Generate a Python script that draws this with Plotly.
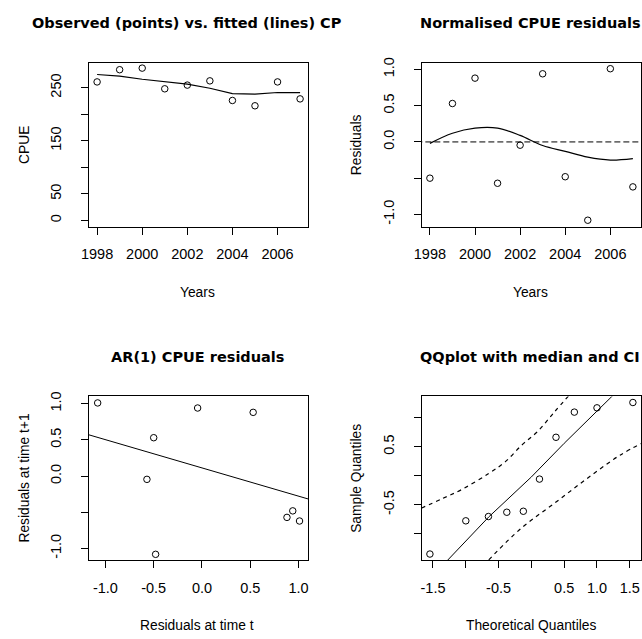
import plotly.graph_objects as go

# ---------------- data ----------------
years = [1998, 1999, 2000, 2001, 2002, 2003, 2004, 2005, 2006, 2007]
cpue_obs = [261, 284, 287, 248, 255, 263, 226, 216, 261, 229]
cpue_fit = [275, 272, 266, 262, 257, 249, 239, 238, 241, 241]

resid = [-0.50, 0.53, 0.88, -0.57, -0.045, 0.94, -0.48, -1.08, 1.01, -0.62]
resid_smooth = [-0.02, 0.12, 0.19, 0.19, 0.09, -0.05, -0.13, -0.21, -0.25, -0.23]

ar_intercept = 0.113
ar_slope = -0.39

theo_q = [-1.547, -1.0, -0.655, -0.375, -0.123, 0.123, 0.375, 0.655, 1.0, 1.547]
sample_q = [-1.35, -0.777, -0.703, -0.629, -0.612, -0.057, 0.664, 1.098, 1.172, 1.264]
qq_med_x = [-1.7, -0.65, 0.0, 0.5, 1.3]
qq_med_y = [-1.96, -0.71, -0.02, 0.56, 1.45]
qq_up_x = [-1.68, -1.35, -1.05, -0.65, -0.40, -0.15, 0.10, 0.35, 0.60]
qq_up_y = [-0.56, -0.39, -0.23, 0.04, 0.24, 0.526, 0.77, 1.10, 1.42]
qq_lo_x = [-0.65, -0.15, 0.35, 0.85, 1.35, 1.70]
qq_lo_y = [-1.45, -0.90, -0.475, -0.046, 0.355, 0.57]

titles = ["Observed (points) vs. fitted (lines) CP", "Normalised CPUE residuals",
          "AR(1) CPUE residuals", "QQplot with median and CI"]

# ---------------- layout helpers ----------------
W, H = 642, 639
BLACK = "black"
TICKFONT = dict(family="Liberation Sans, Arial, sans-serif", size=14.5, color=BLACK)
LABFONT = dict(family="Liberation Sans, Arial, sans-serif", size=13.8, color=BLACK)
TITFONT = dict(family="DejaVu Sans, sans-serif", size=14.5, color=BLACK)


def px(x):
    return x / W


def py(y):
    return 1 - y / H


def axis(dom, rng, tickvals, ticktext=None, is_y=False):
    d = dict(domain=dom, range=rng, tickmode="array", tickvals=tickvals,
             ticktext=ticktext if ticktext is not None else [str(v) for v in tickvals],
             showgrid=False, zeroline=False, showline=True, mirror=True,
             linecolor=BLACK, linewidth=1, ticks="outside", ticklen=7,
             tickwidth=1, tickcolor=BLACK, tickfont=TICKFONT, fixedrange=True)
    if is_y:
        d["tickangle"] = -90
        d["ticklabelstandoff"] = 14
    else:
        d["ticklabelstandoff"] = 7
    return d


colx = [(82, 304), (419, 641)]
rowy = [(58, 223.5), (394.5, 559.5)]

fig = go.Figure()
marker = dict(symbol="circle-open", size=6.5, color=BLACK, line=dict(width=1, color=BLACK))

# panel 1
fig.add_trace(go.Scatter(x=years, y=cpue_obs, mode="markers", marker=marker,
                         xaxis="x", yaxis="y"))
fig.add_trace(go.Scatter(x=years, y=cpue_fit, mode="lines", line=dict(color=BLACK, width=1.2),
                         xaxis="x", yaxis="y"))
# panel 2
fig.add_trace(go.Scatter(x=years, y=resid, mode="markers", marker=marker,
                         xaxis="x2", yaxis="y2"))
fig.add_trace(go.Scatter(x=years, y=resid_smooth, mode="lines", line=dict(color=BLACK, width=1.2, shape="spline"),
                         xaxis="x2", yaxis="y2"))
fig.add_trace(go.Scatter(x=[1997.0, 2008.0], y=[0, 0], mode="lines",
                         line=dict(color=BLACK, width=1, dash="6px,3px"),
                         xaxis="x2", yaxis="y2"))
# panel 3
ar_x = resid[:-1]
ar_y = resid[1:]
fig.add_trace(go.Scatter(x=ar_x, y=ar_y, mode="markers", marker=marker,
                         xaxis="x3", yaxis="y3"))
line_x = [-1.3, 1.3]
fig.add_trace(go.Scatter(x=line_x, y=[ar_intercept + ar_slope * v for v in line_x], mode="lines",
                         line=dict(color=BLACK, width=1), xaxis="x3", yaxis="y3"))
# panel 4
fig.add_trace(go.Scatter(x=theo_q, y=sample_q, mode="markers", marker=marker,
                         xaxis="x4", yaxis="y4"))
fig.add_trace(go.Scatter(x=qq_med_x, y=qq_med_y, mode="lines", line=dict(color=BLACK, width=1),
                         xaxis="x4", yaxis="y4"))
fig.add_trace(go.Scatter(x=qq_up_x, y=qq_up_y, mode="lines", line=dict(color=BLACK, width=1.2, dash="4px,4px", shape="spline"),
                         xaxis="x4", yaxis="y4"))
fig.add_trace(go.Scatter(x=qq_lo_x, y=qq_lo_y, mode="lines", line=dict(color=BLACK, width=1.2, dash="4px,4px", shape="spline"),
                         xaxis="x4", yaxis="y4"))

xd = [[px(a), px(b)] for a, b in colx]
yd = [[py(b), py(a)] for a, b in rowy]

layout = dict(
    width=W, height=H, margin=dict(l=0, r=0, t=0, b=0),
    paper_bgcolor="white", plot_bgcolor="white", showlegend=False,
    xaxis=axis(xd[0], [1997.64, 2007.36], [1998, 2000, 2002, 2004, 2006]),
    yaxis=axis(yd[0], [-12, 297.5], [0, 50, 100, 150, 200, 250],
               ["0", "50", "", "150", "", "250"], is_y=True),
    xaxis2=axis(xd[1], [1997.64, 2007.36], [1998, 2000, 2002, 2004, 2006]),
    yaxis2=axis(yd[0], [-1.17, 1.095], [-1.0, -0.5, 0.0, 0.5, 1.0],
                ["-1.0", "", "0.0", "0.5", "1.0"], is_y=True),
    xaxis3=axis(xd[0], [-1.17, 1.10], [-1.0, -0.5, 0.0, 0.5, 1.0],
                ["-1.0", "-0.5", "0.0", "0.5", "1.0"]),
    yaxis3=axis(yd[1], [-1.16, 1.10], [-1.0, -0.5, 0.0, 0.5, 1.0],
                ["-1.0", "", "0.0", "0.5", "1.0"], is_y=True),
    xaxis4=axis(xd[1], [-1.671, 1.671], [-1.5, -1.0, -0.5, 0.0, 0.5, 1.0, 1.5],
                ["-1.5", "", "-0.5", "", "0.5", "1.0", "1.5"]),
    yaxis4=axis(yd[1], [-1.455, 1.369], [-1.5, -1.0, -0.5, 0.0, 0.5, 1.0],
                ["-1.5", "", "-0.5", "", "0.5", ""], is_y=True),
)
for i in range(1, 5):
    sfx = "" if i == 1 else str(i)
    layout["xaxis" + sfx]["anchor"] = "y" + sfx
    layout["yaxis" + sfx]["anchor"] = "x" + sfx

anns = []
# titles
for txt, cx, cy in [(titles[0], 181, 18.5), (titles[1], 529, 18.5),
                    (titles[2], 191.5, 354.5), (titles[3], 529, 354.5)]:
    anns.append(dict(text="<b>" + txt + "</b>", x=px(cx), y=py(cy), xanchor="center", yanchor="middle",
                     showarrow=False, font=TITFONT, xref="paper", yref="paper"))
# x axis titles
for txt, cx, cy in [("Years", 192, 290), ("Years", 529, 290),
                    ("Residuals at time t", 191.5, 625.5), ("Theoretical Quantiles", 529.3, 625.5)]:
    anns.append(dict(text=txt, x=px(cx), y=py(cy), xanchor="center", yanchor="middle",
                     showarrow=False, font=LABFONT, xref="paper", yref="paper"))
# y axis titles
for txt, cx, cy in [("CPUE", 16.5, 140.7), ("Residuals", 353, 140.7),
                    ("Residuals at time t+1", 16.5, 477), ("Sample Quantiles", 353, 477)]:
    anns.append(dict(text=txt, x=px(cx), y=py(cy), xanchor="center", yanchor="middle", textangle=-90,
                     showarrow=False, font=LABFONT, xref="paper", yref="paper"))
layout["annotations"] = anns

fig.update_layout(**layout)
fig.write_html("out.html", config={"displayModeBar": False},
               post_script="document.body.style.margin='0';document.body.style.overflow='hidden';")
